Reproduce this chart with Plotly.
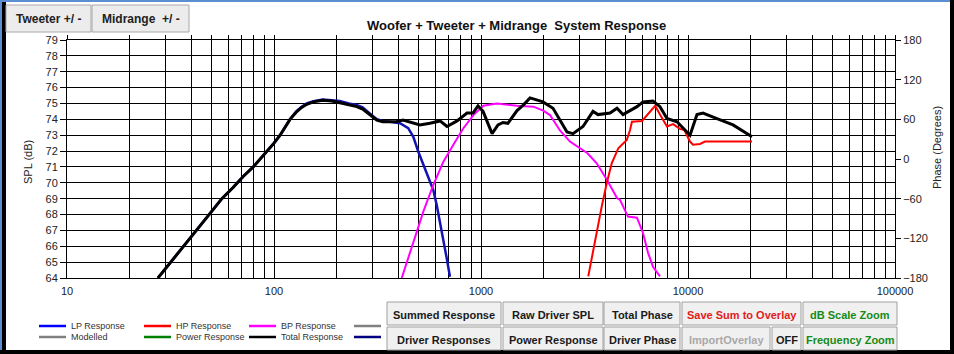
import plotly.graph_objects as go

# ---------------- data ----------------
total_f = [27.5, 30, 35, 40, 44, 50, 56, 63.4, 71, 79.4, 86, 92.2, 100, 107, 113, 119.5,
           128, 136, 144, 155, 172, 190, 208, 230, 251, 268, 281, 298, 314, 335, 363, 390,
           420, 507, 567, 634, 685, 766, 856, 915, 967, 1023, 1131, 1208, 1278, 1349, 1493,
           1600, 1725, 1993, 2227, 2603, 2782, 3110, 3476, 3675, 4201, 4540, 4853, 5670,
           6062, 6774, 7323, 7916, 8850, 10225, 11053, 11818, 13806, 16501, 20386]
total_db = [64.0, 64.6, 65.7, 66.6, 67.3, 68.2, 69.0, 69.7, 70.4, 71.0, 71.5, 72.0, 72.5, 73.0, 73.5, 74.0,
            74.45, 74.75, 74.95, 75.1, 75.2, 75.15, 75.05, 74.9, 74.8, 74.65, 74.45, 74.15, 73.95, 73.85, 73.85, 73.85,
            73.95, 73.65, 73.75, 73.9, 73.55, 73.9, 74.4, 74.4, 74.85, 74.5, 73.1, 73.65, 73.8, 73.75, 74.55,
            74.9, 75.35, 75.1, 74.7, 73.2, 73.1, 73.55, 74.5, 74.3, 74.4, 74.7, 74.3, 74.8,
            75.1, 75.15, 74.8, 74.05, 73.85, 73.0, 74.3, 74.4, 74.05, 73.65, 72.9]

lp_f = [27.5, 30, 35, 40, 44, 50, 56, 63.4, 71, 79.4, 86, 92.2, 100, 107, 113, 119.5,
        128, 136, 144, 155, 172, 190, 208, 230, 251, 268, 281, 298, 314, 335, 363, 406,
        445, 471, 498, 527, 556, 588, 611, 634, 658, 683, 708]
lp_db = [64.0, 64.6, 65.7, 66.6, 67.3, 68.2, 69.0, 69.7, 70.4, 71.0, 71.5, 72.0, 72.5, 73.0, 73.5, 74.0,
         74.5, 74.8, 75.0, 75.15, 75.25, 75.2, 75.15, 75.0, 74.9, 74.75, 74.55, 74.25, 74.0, 73.9, 73.85, 73.75,
         73.44, 72.9, 71.96, 71.12, 70.39, 69.55, 68.6, 67.55, 66.5, 65.24, 64.08]

bp_f = [414, 471, 527, 588, 658, 734, 822, 919, 1027, 1192, 1300, 1487, 1790, 2000, 2154,
        2407, 2690, 2912, 3270, 3622, 4064, 4540, 4693, 5128, 5670, 6062, 6408, 6774, 7323]
bp_db = [64.0, 66.3, 68.2, 69.86, 71.33, 72.38, 73.44, 74.27, 74.86, 75.0, 74.95, 74.85, 74.8, 74.55, 74.27,
         73.3, 72.6, 72.28, 71.86, 71.23, 70.18, 69.04, 68.92, 67.87, 67.8, 66.84, 65.6, 64.7, 64.1]

hp_f = [3297, 3486, 3687, 3829, 4049, 4281, 4607, 4693, 5060, 5248, 5360, 5997, 6938, 7323,
        7916, 8475, 9140, 9600, 10225, 10570, 11430, 12080, 15000, 20386]
hp_db = [64.1, 65.77, 67.45, 68.5, 69.97, 71.23, 72.18, 72.28, 72.7, 73.33, 73.85, 73.9, 74.85, 74.3,
         73.55, 73.7, 73.4, 73.33, 72.6, 72.4, 72.45, 72.6, 72.6, 72.6]

spl_range = [64, 79]
phase_ticks = [-180, -120, -60, 0, 60, 120, 180]
x_decades = [10, 100, 1000, 10000, 100000]
x_gridvals = [m * d for d in [10, 100, 1000, 10000] for m in range(1, 10)] + [100000]
x_ticktext = [str(v) if v in x_decades else "" for v in x_gridvals]

legend_row1 = [("LP Response", "#0000ff"), ("HP Response", "#ff0000"), ("BP Response", "#ff00ff"), ("", "#808080")]
legend_row2 = [("Modelled", "#808080"), ("Power Response", "#008000"), ("Total Response", "#000000"), ("", "#000080")]

# ---------------- figure ----------------
W, H = 954, 354
L, R, T, B = 67, 895, 40, 278


def px(x):
    return (x - L) / (R - L)


def py(y):
    return (B - y) / (B - T)


FONT = "Liberation Sans, Arial, sans-serif"

fig = go.Figure()
fig.add_trace(go.Scatter(x=lp_f, y=lp_db, mode="lines", line=dict(color="#1414b4", width=2.5),
                         name="LP Response", hoverinfo="skip"))
fig.add_trace(go.Scatter(x=bp_f, y=bp_db, mode="lines", line=dict(color="#ff00ff", width=2),
                         name="BP Response", hoverinfo="skip"))
fig.add_trace(go.Scatter(x=hp_f, y=hp_db, mode="lines", line=dict(color="#ff0000", width=2),
                         name="HP Response", hoverinfo="skip"))
fig.add_trace(go.Scatter(x=total_f, y=total_db, mode="lines", line=dict(color="#000000", width=3),
                         name="Total Response", hoverinfo="skip"))
# phase axis carrier (invisible)
fig.add_trace(go.Scatter(x=[20, 30], y=[0, 0], xaxis="x2", yaxis="y2", mode="lines",
                         line=dict(width=0, color="rgba(0,0,0,0)"), hoverinfo="skip", showlegend=False))

fig.update_layout(
    width=W, height=H,
    margin=dict(l=L, r=W - R, t=T, b=H - B),
    paper_bgcolor="white", plot_bgcolor="white",
    showlegend=False,
    font=dict(family=FONT, size=11, color="#222222"),
    xaxis=dict(type="log", range=[1, 5], tickvals=x_gridvals, ticktext=x_ticktext,
               showgrid=True, gridcolor="black", gridwidth=1,
               showline=True, linecolor="black", linewidth=1, mirror=True,
               ticks="outside", ticklen=3, tickcolor="rgba(0,0,0,0)",
               tickfont=dict(size=11, color="#222222"), zeroline=False),
    xaxis2=dict(type="log", range=[1, 5], overlaying="x", side="top", anchor="y2",
                tickvals=x_gridvals, showticklabels=False, showgrid=False,
                ticks="outside", ticklen=4, tickcolor="black", zeroline=False),
    yaxis=dict(range=spl_range, dtick=1, tick0=64, showgrid=True, gridcolor="black", gridwidth=1,
               showline=True, linecolor="black", linewidth=1, mirror=True,
               ticks="outside", ticklen=6, tickcolor="black",
               tickfont=dict(size=11, color="#222222"), zeroline=False),
    yaxis2=dict(range=[-180, 180], tickvals=phase_ticks, overlaying="y", side="right", anchor="x2",
                showgrid=False, ticks="outside", ticklen=5, tickcolor="black",
                tickfont=dict(size=11, color="#222222"), zeroline=False),
)

shapes = []
annotations = []


def rect(x0, y0, x1, y1, fill, line="rgba(0,0,0,0)", lw=0):
    shapes.append(dict(type="rect", xref="paper", yref="paper",
                       x0=px(x0), x1=px(x1), y0=py(y0), y1=py(y1),
                       fillcolor=fill, line=dict(color=line, width=lw), layer="above"))


def text(x, y, s, size=11, color="#222222", bold=False, xanchor="center", angle=0):
    annotations.append(dict(xref="paper", yref="paper", x=px(x), y=py(y), text=("<b>%s</b>" % s) if bold else s,
                            showarrow=False, xanchor=xanchor, yanchor="middle", textangle=angle,
                            font=dict(family=FONT, size=size, color=color)))


# window frame
rect(0, 0, 2, H, "#5b8fd0")
rect(0, 0, W, 2, "#5b8fd0")
rect(2, 2, 6, H, "black")
rect(950, 0, W, H, "black")
rect(0, 350, W, H, "black")

# title & axis titles
text(516, 26, "Woofer + Tweeter + Midrange  System Response", size=13, color="#111111", bold=True)
text(28, 162, "SPL (dB)", size=11, angle=-90)
text(937, 148, "Phase (Degrees)", size=11, angle=-90)

# top-left buttons
for (x0, x1, label) in [(6, 91, "Tweeter +/ -"), (92, 189, "Midrange  +/ -")]:
    rect(x0, 5, x1, 32, "#ececec", "#a8a8a8", 1)
    text((x0 + x1) / 2, 19, label, size=12, color="#222222", bold=True)

# legend
lx = [39, 144, 249, 354]
for row_y, row in [(326, legend_row1), (337, legend_row2)]:
    for x0, (lab, col) in zip(lx, row):
        shapes.append(dict(type="line", xref="paper", yref="paper", x0=px(x0), x1=px(x0 + 27),
                           y0=py(row_y), y1=py(row_y), line=dict(color=col, width=2.5), layer="above"))
        if lab:
            text(x0 + 30, row_y, lab, size=9, color="#333333", xanchor="left")

# bottom buttons
buttons = [
    (387, 501, 302, 325, "Summed Response", "#1a1a1a"),
    (503, 603, 302, 325, "Raw Driver SPL", "#1a1a1a"),
    (604, 680, 302, 325, "Total Phase", "#1a1a1a"),
    (682, 801, 302, 325, "Save Sum to Overlay", "#e01c1c"),
    (803, 897, 302, 325, "dB Scale Zoom", "#168a16"),
    (387, 501, 327, 350, "Driver Responses", "#1a1a1a"),
    (503, 603, 327, 350, "Power Response", "#1a1a1a"),
    (604, 680, 327, 350, "Driver Phase", "#1a1a1a"),
    (682, 770, 327, 350, "ImportOverlay", "#a8a8a8"),
    (772, 801, 327, 350, "OFF", "#1a1a1a"),
    (803, 897, 327, 350, "Frequency Zoom", "#168a16"),
]
for x0, x1, y0, y1, lab, col in buttons:
    rect(x0, y0, x1, y1, "#f0f0f0", "#a0a0a0", 1)
    text((x0 + x1) / 2, (y0 + y1) / 2 + 1, lab, size=11, color=col, bold=True)

fig.update_layout(shapes=shapes, annotations=annotations)
fig.write_html("out.html")
